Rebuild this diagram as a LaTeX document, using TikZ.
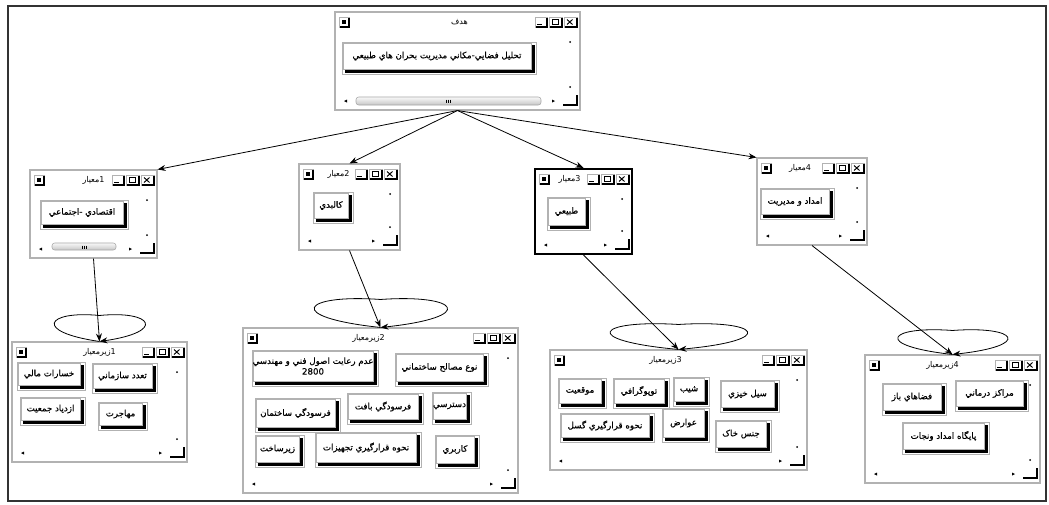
\documentclass[tikz,border=0pt]{standalone}
\usepackage{fontspec}
\newfontfamily\fa[Script=Arabic]{DejaVu Sans}
\newfontfamily\fab[Script=Arabic,FakeBold=0.6]{DejaVu Sans}
\TeXXeTstate=1
\usetikzlibrary{arrows.meta,calc,fit}
\tikzset{
  x=0.75pt, y=-0.75pt,
  winbox/.style={draw=gray!60, line width=0.8pt, inner sep=0pt, fill=white},
  thickwin/.style={draw=black, line width=1.6pt, inner sep=0pt, fill=white},
  titletext/.style={font=\fa\fontsize{6}{7}\selectfont, inner sep=0pt},
  btntext/.style={font=\fab\fontsize{6.5}{8}\selectfont, inner sep=0pt, align=center},
  arr/.style={-{Stealth[length=6pt,width=4.5pt]}, line width=0.6pt},
  frame/.style={draw=gray!40!black, line width=1.5pt}
}
\newcommand{\myibox}[4]{%
  \draw[gray!60, fill=white, line width=0.5pt] (#1,#2) rectangle (#3,#4);
  \draw[line width=1pt] (#3,#2+0.5) -- (#3,#4) -- (#1+0.5,#4);
}
\newcommand{\mywin}[8]{% style name x1 y1 x2 y2 title title-offset
  \node[#1, fit={(#3,#4) (#5,#6)}] (#2) {};
  \myibox{#3+4}{#4+5}{#3+14}{#4+15}
  \fill (#3+7,#4+8) rectangle (#3+11,#4+12);
  \myibox{#5-45}{#4+5}{#5-33}{#4+15}
  \draw[line width=0.9pt] (#5-43,#4+12.5) -- (#5-38,#4+12.5);
  \myibox{#5-31}{#4+5}{#5-18}{#4+15}
  \draw[line width=0.6pt] (#5-28,#4+7.5) rectangle (#5-21.5,#4+12.5);
  \myibox{#5-16}{#4+5}{#5-3}{#4+15}
  \draw[line width=0.7pt] (#5-13,#4+7.5) -- (#5-7.5,#4+12.5) (#5-13,#4+12.5) -- (#5-7.5,#4+7.5);
  \node[titletext] (#2-title) at ({(#3+#5)/2+#8},#4+10.5) {#7};
  \fill (#5-10,#4+30) circle (1);
  \fill (#5-10,#6-23) circle (1);
  \fill (#3+9,#6-9) -- ++(3,-1.5) -- ++(0,3) -- cycle;
  \fill (#5-25,#6-9) -- ++(-3,-1.5) -- ++(0,3) -- cycle;
  \draw[line width=1.1pt] (#5-17,#6-5) -- (#5-3,#6-5) -- (#5-3,#6-15);
}
\newcommand{\mybtn}[6]{% name x1 y1 x2 y2 text
  \draw[gray!60, fill=white, line width=0.5pt] (#2,#3) rectangle (#4,#5);
  \fill[black] (#2+3,#3+3) rectangle (#4-1,#5-1);
  \draw[gray!60, fill=white, line width=0.5pt] (#2+1,#3+1) rectangle (#4-5,#5-5);
  \node[btntext] (#1) at ({(#2+#4-4)/2},{(#3+#5-4)/2}) {#6};
}
\newcommand{\myscroll}[4]{%
  \draw[gray!70, rounded corners=2pt, top color=gray!5, bottom color=gray!45, line width=0.4pt] (#1,#2) rectangle (#3,#4);
  \draw[line width=0.3pt] ({(#1+#3)/2-2},#2+2.5) -- ++(0,3) ({(#1+#3)/2},#2+2.5) -- ++(0,3) ({(#1+#3)/2+2},#2+2.5) -- ++(0,3);
}
\newcommand{\myloop}[3]{% node halfwidth height
  \draw[arr] (#1.north) .. controls ($(#1.north)+(-1.55*#2,-0.37*#3)$) and ($(#1.north)+(-1.25*#2,-1.2*#3)$) .. ($(#1.north)+(0,-#3)$) .. controls ($(#1.north)+(1.25*#2,-1.2*#3)$) and ($(#1.north)+(1.55*#2,-0.37*#3)$) .. (#1.north);
}
\newcommand{\fat}[1]{\beginR #1\endR}
\newcommand{\numt}[2]{\hbox{\fat{#1}}\hbox{#2}}
\begin{document}
\begin{tikzpicture}
\useasboundingbox (0,0) rectangle (1049,504);
\draw[frame] (8,6) rectangle (1046,501);
% goal window
\mywin{winbox}{w0}{335}{12}{580}{110}{\fat{هدف}}{2}
\mybtn{b0}{342}{42}{536}{74}{\fat{تحليل فضايي-مکاني مديريت بحران هاي طبيعي}}
\myscroll{356}{97}{541}{105}
% criteria windows
\mywin{winbox}{w1}{30}{170}{157}{258}{\numt{معيار}{1}}{0}
\mybtn{b1}{40}{200}{128}{229}{\fat{اقتصادي -اجتماعي}}
\myscroll{52}{243}{116}{250}
\mywin{winbox}{w2}{299}{164}{400}{250}{\numt{معيار}{2}}{-11}
\mybtn{b2}{313}{192}{353}{223}{\fat{کالبدي}}
\mywin{thickwin}{w3}{535}{169}{632}{254}{\numt{معيار}{3}}{-14}
\mybtn{b3}{547}{197}{590}{230}{\fat{طبيعي}}
\mywin{winbox}{w4}{757}{158}{867}{245}{\numt{معيار}{4}}{-12}
\mybtn{b4}{760}{188}{834}{219}{\fat{امداد و مديريت}}
% sub-criteria windows
\mywin{winbox}{s1}{12}{342}{187}{462}{\numt{زيرمعيار}{1}}{0}
\mybtn{s1a}{17}{362}{85}{390}{\fat{خسارات مالي}}
\mybtn{s1b}{92}{363}{157}{393}{\fat{تعدد سازماني}}
\mybtn{s1c}{20}{397}{85}{425}{\fat{ازدياد جمعيت}}
\mybtn{s1d}{98}{402}{147}{430}{\fat{مهاجرت}}
\mywin{winbox}{s2}{243}{328}{518}{493}{\numt{زيرمعيار}{2}}{-12}
\mybtn{s2a}{252}{350}{378}{386}{\fat{عدم رعايت اصول فني و مهندسي}\\2800}
\mybtn{s2b}{395}{353}{488}{386}{\fat{نوع مصالح ساختماني}}
\mybtn{s2c}{255}{398}{340}{432}{\fat{فرسودگي ساختمان}}
\mybtn{s2d}{347}{393}{423}{424}{\fat{فرسودگي بافت}}
\mybtn{s2e}{432}{392}{471}{424}{\fat{دسترسي}}
\mybtn{s2f}{255}{435}{304}{467}{\fat{زيرساخت}}
\mybtn{s2g}{315}{432}{421}{467}{\fat{نحوه قرارگيري تجهيزات}}
\mybtn{s2h}{435}{435}{479}{468}{\fat{کاربري}}
\mywin{winbox}{s3}{550}{350}{807}{470}{\numt{زيرمعيار}{3}}{-13}
\mybtn{s3a}{558}{378}{606}{408}{\fat{موقعيت}}
\mybtn{s3b}{613}{378}{669}{408}{\fat{توپوگرافي}}
\mybtn{s3c}{673}{377}{709}{406}{\fat{شيب}}
\mybtn{s3d}{720}{380}{779}{412}{\fat{سيل خيزي}}
\mybtn{s3e}{560}{413}{654}{442}{\fat{نحوه قرارگيري گسل}}
\mybtn{s3f}{662}{408}{709}{442}{\fat{عوارض}}
\mybtn{s3g}{715}{420}{771}{452}{\fat{جنس خاک}}
\mywin{winbox}{s4}{865}{355}{1040}{483}{\numt{زيرمعيار}{4}}{-10}
\mybtn{s4a}{882}{383}{946}{415}{\fat{فضاهاي باز}}
\mybtn{s4b}{955}{380}{1028}{411}{\fat{مراکز درماني}}
\mybtn{s4c}{902}{422}{989}{454}{\fat{پايگاه امداد ونجات}}
% connectors
\draw[arr] (w0.south) -- (w1.north east);
\draw[arr] (w0.south) -- (w2.north);
\draw[arr] (w0.south) -- (w3.north);
\draw[arr] (w0.south) -- (w4.north west);
\draw[arr] (w1.south) -- (s1.north);
\draw[arr] (w2.south) -- (s2.north);
\draw[arr] (w3.south) -- (s3.north);
\draw[arr] (w4.south) -- (s4.north);
\myloop{s1}{43}{26}
\myloop{s2}{63}{28}
\myloop{s3}{65}{25}
\myloop{s4}{52}{24}
\end{tikzpicture}
\end{document}
